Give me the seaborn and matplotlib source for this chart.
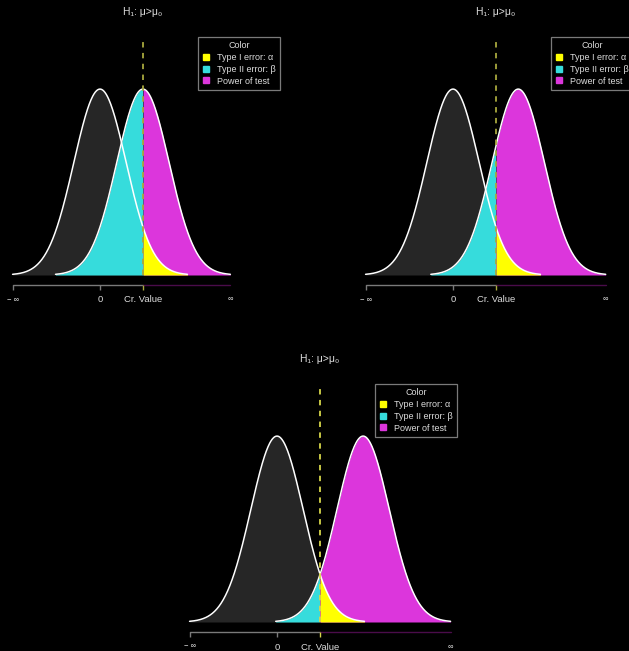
import numpy as np
import matplotlib
matplotlib.use("Agg")
import matplotlib.pyplot as plt
import seaborn as sns
from matplotlib.lines import Line2D

# values
crit_value = 1.645                 # one-sided z at alpha = 0.05
alt_means = [1.645, 2.5, 3.3]      # mean under H1 in the three panels
half_range = 3.35                  # curves drawn over mean +/- this
title_text = "H\u2081: \u03bc>\u03bc\u2080"
legend_labels = ["Type I error: \u03b1", "Type II error: \u03b2", "Power of test"]
tick_labels = ["\u2212 \u221e", "0", "Cr. Value", "\u221e"]

# colours
col_h0 = "#262626"
col_alpha = "#ffff00"
col_beta = "#36dcdc"
col_power = "#dc36dc"
dash_cols = ["#a8a83e", "#a8a83e", "#d6d64a"]

# layout (pixel position of x=0 and of the baseline in the figure)
zero_px = [100, 453, 277]
base_px = [275, 275, 622]
px_x = 26.1     # pixels per x unit
px_y = 466.0    # pixels per density unit

sns.set_theme(style="dark", rc={"axes.facecolor": "black", "figure.facecolor": "black"})
plt.rcParams["font.family"] = ["Liberation Sans", "DejaVu Sans"]

W, H = 629, 651
fig = plt.figure(figsize=(W / 100, H / 100), dpi=100)
fig.patch.set_facecolor("black")


def npdf(x, m):
    return np.exp(-0.5 * (x - m) ** 2) / np.sqrt(2 * np.pi)


for i, mu1 in enumerate(alt_means):
    aw, ah = 315, 325
    left = zero_px[i] - 100
    top = base_px[i] - 275
    ax = fig.add_axes([left / W, 1 - (top + ah) / H, aw / W, ah / H])
    ax.set_xlim(-100 / px_x, (aw - 100) / px_x)
    ax.set_ylim(-(ah - 275) / px_y, 275 / px_y)
    ax.axis("off")

    x0 = np.linspace(-half_range, half_range, 400)
    y0 = npdf(x0, 0)
    x1 = np.linspace(mu1 - half_range, mu1 + half_range, 400)
    y1 = npdf(x1, mu1)

    # filled areas
    ax.fill_between(x0, 0, y0, color=col_h0, lw=0)
    ax.fill_between(x1, 0, y1, where=x1 <= crit_value, color=col_beta, lw=0, interpolate=True)
    ax.fill_between(x1, 0, y1, where=x1 >= crit_value, color=col_power, lw=0, interpolate=True)
    ax.fill_between(x0, 0, y0, where=x0 >= crit_value, color=col_alpha, lw=0, interpolate=True)

    # density outlines
    sns.lineplot(x=x0, y=y0, color="white", lw=1.1, ax=ax, sort=False)
    sns.lineplot(x=x1, y=y1, color="white", lw=1.1, ax=ax, sort=False)

    # critical value
    ax.vlines(crit_value, 0, 0.511, colors=dash_cols[i], lw=1.3, linestyles=(0, (3, 3)))

    # hand drawn axis
    y_ax = -10 / px_y
    tick_len = 5 / px_y
    x_lo, x_hi = -half_range, mu1 + half_range
    ax.plot([x_lo, crit_value], [y_ax, y_ax], color="#7a7a7a", lw=1)
    ax.plot([crit_value, x_hi], [y_ax, y_ax], color="#4a0c4a", lw=1)
    ax.vlines([x_lo, 0], y_ax - tick_len, y_ax, colors="#7a7a7a", lw=1)
    ax.vlines(crit_value, y_ax - tick_len, y_ax, colors=dash_cols[i], lw=1)

    y_lab = -25 / px_y
    tick_pos = [x_lo, 0, crit_value, x_hi]
    tick_sizes = [5.5, 6.8, 6.8, 5.5]
    for xp, lab, fs in zip(tick_pos, tick_labels, tick_sizes):
        ax.text(xp, y_lab, lab, color="#dddddd", fontsize=fs, ha="center", va="center")

    ax.text(crit_value, 0.564, title_text, color="#dddddd", fontsize=7.5,
            ha="center", va="center")

    handles = [Line2D([], [], ls="none", marker="s", markersize=5,
                      markerfacecolor=c, markeredgecolor=c)
               for c in (col_alpha, col_beta, col_power)]
    leg = ax.legend(handles, legend_labels, title="Color", loc="upper left",
                    bbox_to_anchor=(3.75, 0.511), bbox_transform=ax.transData,
                    fontsize=6.5, title_fontsize=6.5, frameon=True, fancybox=False,
                    facecolor="black", edgecolor="#9a9a9a", labelcolor="#dddddd",
                    handletextpad=0.7, handlelength=0.9, borderpad=0.5,
                    labelspacing=0.3, borderaxespad=0)
    leg.get_title().set_color("#dddddd")
    leg.get_frame().set_linewidth(0.9)

fig.savefig("out.png", dpi=100, facecolor="black")
